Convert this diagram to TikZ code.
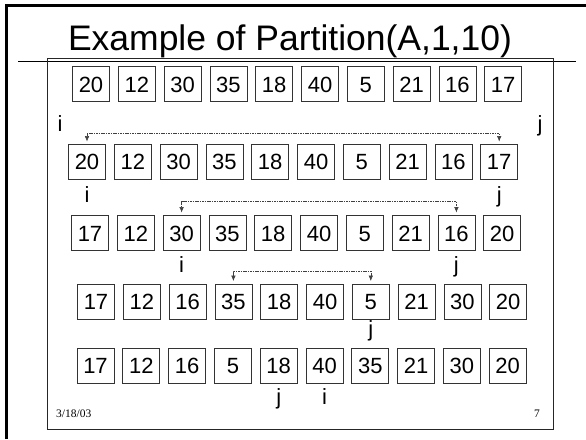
\documentclass[tikz,border=0pt]{standalone}
\usepackage{fontspec}
\setmainfont{Liberation Sans}
\newfontfamily\footfont{Liberation Serif}
\usetikzlibrary{arrows.meta,positioning,calc}

\begin{document}
\begin{tikzpicture}[
  x=1pt, y=1pt,
  cell/.style={draw=black!80, line width=0.8pt, minimum width=37pt, minimum height=35pt,
               inner sep=0pt, text height=16pt, text depth=0pt,
               font=\fontsize{22}{26}\selectfont},
  ptr/.style={anchor=base, inner sep=0pt, font=\fontsize{22}{26}\selectfont},
  swaparrow/.style={{Latex[length=5.5pt,width=4.5pt]}-{Latex[length=5.5pt,width=4.5pt]},
                    line width=0.6pt, black!75, dash pattern=on 1.6pt off 0.8pt},
  foot/.style={inner sep=0pt, font=\footfont\fontsize{11.5}{13}\selectfont}
]
\useasboundingbox (0,0) rectangle (586,-439);

% ---------------------------------------------------------------------------
% Slide frame and title
% ---------------------------------------------------------------------------
\draw[line width=3pt] (6.5,-439) -- (6.5,-5) -- (586,-5);
\node[anchor=base, inner sep=0pt, font=\fontsize{35.5}{40}\selectfont] (title) at (290,-50)
  {Example of Partition(A,1,10)};
\draw[line width=0.9pt] (18,-61) -- (576,-61);
\draw[line width=0.8pt, black!85] (47,-58) rectangle (553,-429);

% ---------------------------------------------------------------------------
% The array after each step of the partition
% ---------------------------------------------------------------------------
\foreach \v [count=\k] in {20,12,30,35,18,40,5,21,16,17}
  \node[cell] (r1c\k) at ({91+(\k-1)*45.8},-84) {\v};
\foreach \v [count=\k] in {20,12,30,35,18,40,5,21,16,17}
  \node[cell] (r2c\k) at ({87+(\k-1)*45.8},-161.5) {\v};
\foreach \v [count=\k] in {17,12,30,35,18,40,5,21,16,20}
  \node[cell] (r3c\k) at ({90+(\k-1)*45.8},-233) {\v};
\foreach \v [count=\k] in {17,12,16,35,18,40,5,21,30,20}
  \node[cell] (r4c\k) at ({96+(\k-1)*45.8},-301.5) {\v};
\foreach \v [count=\k] in {17,12,16,5,18,40,35,21,30,20}
  \node[cell] (r5c\k) at ({95.5+(\k-1)*45.8},-365.5) {\v};

% ---------------------------------------------------------------------------
% Pointers i and j
% ---------------------------------------------------------------------------
\node[ptr] (i1) at (60,-131) {i};
\node[ptr] (j1) at (540,-131) {j};
\node[ptr] (i2) at ([yshift=-23pt]r2c1.south) {i};
\node[ptr] (j2) at ([yshift=-23pt]r2c10.south) {j};
\node[ptr] (i3) at ([yshift=-22pt]r3c3.south) {i};
\node[ptr] (j3) at ([yshift=-22pt]r3c9.south) {j};
\node[ptr] (j4) at ([yshift=-17pt]r4c7.south) {j};
\node[ptr] (j5) at ([yshift=-21pt]r5c5.south) {j};
\node[ptr] (i5) at ([yshift=-21pt]r5c6.south) {i};

% Swaps
\draw[swaparrow] ([yshift=2pt]r2c1.north) -- ++(0,8) -| ([yshift=2pt]r2c10.north);
\draw[swaparrow] ([yshift=2.5pt]r3c3.north) -- ++(0,11) -| ([yshift=2.5pt]r3c9.north);
\draw[swaparrow] ([yshift=2.5pt]r4c4.north) -- ++(0,10) -| ([yshift=2.5pt]r4c7.north);

% Footer
\node[foot, anchor=base west] (date) at (56,-417) {3/18/03};
\node[foot, anchor=base east] (page) at (540,-417) {7};

\end{tikzpicture}
\end{document}
